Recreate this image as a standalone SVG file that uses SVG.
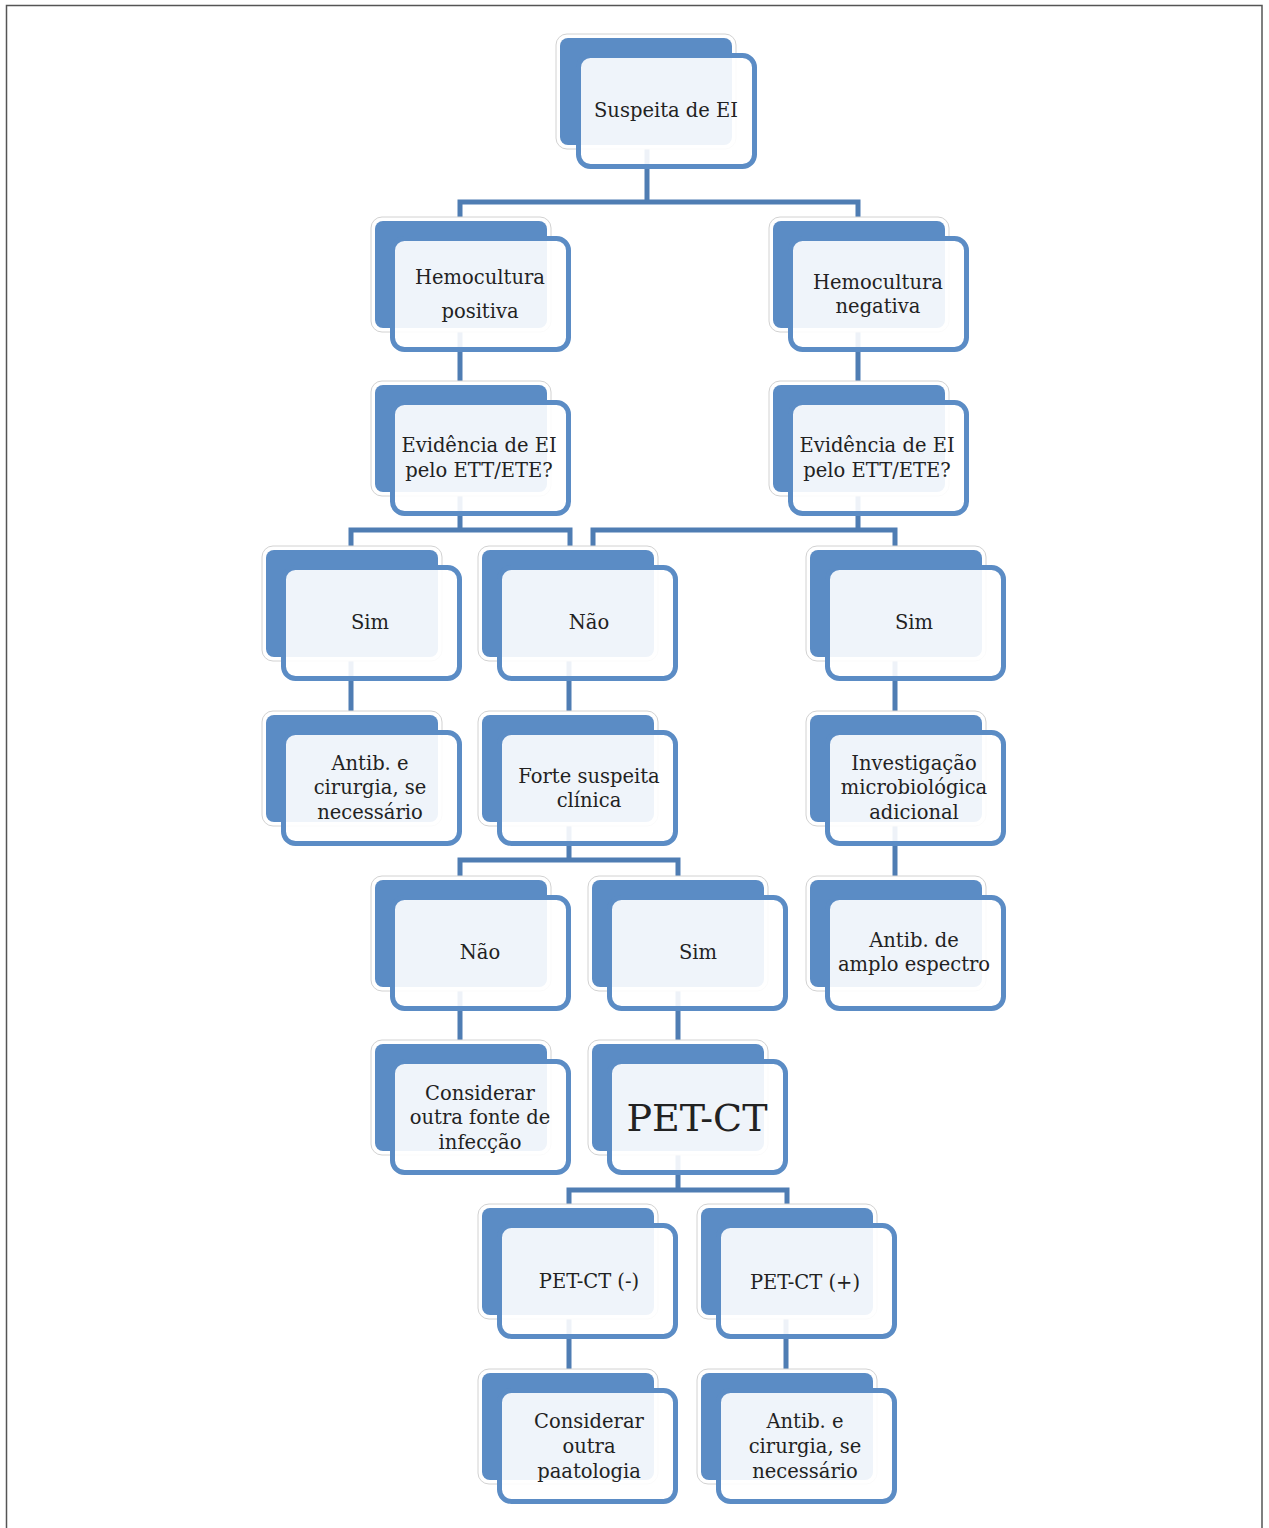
<svg xmlns="http://www.w3.org/2000/svg" width="1269" height="1528" viewBox="0 0 1269 1528">
<style>
.halo{fill:#fff;stroke:#d2d2d2;stroke-width:1}
.back{fill:#5b8cc5}
.front{fill:#fff;fill-opacity:0.9;stroke:#5b8cc5;stroke-width:5}
.t{font-family:"DejaVu Serif","Liberation Serif",serif;font-size:19.5px;fill:#222;text-anchor:middle}
.big{font-size:38px}
.c{fill:none;stroke:#4f7db3;stroke-width:5;stroke-linejoin:miter}
</style>
<rect width="1269" height="1528" fill="#fff"/>
<path d="M6.5 1528 V5.5 H1262 V1528" fill="none" stroke="#555" stroke-width="1.5"/>
<g id="connectors">
<path class="c" d="M647 140 V202 M460 230 V202 H858 V230"/>
<path class="c" d="M460 320 V395 M858 320 V395"/>
<path class="c" d="M460 490 V530 M351 560 V530 H570 V560"/>
<path class="c" d="M858 490 V530 M593 560 V530 H895 V560"/>
<path class="c" d="M351 650 V725 M569 650 V725 M895 650 V725"/>
<path class="c" d="M569 815 V860 M460 890 V860 H678 V890"/>
<path class="c" d="M895 815 V890"/>
<path class="c" d="M460 980 V1055 M678 980 V1055"/>
<path class="c" d="M678 1145 V1190 M569 1220 V1190 H787 V1220"/>
<path class="c" d="M569 1310 V1383 M786 1310 V1383"/>
</g>
<g id="n1"><rect class="halo" x="556" y="34" width="180" height="115" rx="11"/><rect class="back" x="560" y="38" width="172" height="107" rx="8"/><rect class="front" x="578.5" y="55.5" width="176" height="111" rx="12"/><text class="t" x="666" y="117">Suspeita de EI</text></g>
<g id="n2"><rect class="halo" x="371" y="217" width="180" height="115" rx="11"/><rect class="back" x="375" y="221" width="172" height="107" rx="8"/><rect class="front" x="392.5" y="238.5" width="176" height="111" rx="12"/><text class="t" x="480" y="284">Hemocultura</text><text class="t" x="480" y="318">positiva</text></g>
<g id="n3"><rect class="halo" x="769" y="217" width="180" height="115" rx="11"/><rect class="back" x="773" y="221" width="172" height="107" rx="8"/><rect class="front" x="790.5" y="238.5" width="176" height="111" rx="12"/><text class="t" x="878" y="289">Hemocultura</text><text class="t" x="878" y="313">negativa</text></g>
<g id="n4"><rect class="halo" x="371" y="381" width="180" height="115" rx="11"/><rect class="back" x="375" y="385" width="172" height="107" rx="8"/><rect class="front" x="392.5" y="402.5" width="176" height="111" rx="12"/><text class="t" x="479" y="452">Evidência de EI</text><text class="t" x="479" y="477">pelo ETT/ETE?</text></g>
<g id="n5"><rect class="halo" x="769" y="381" width="180" height="115" rx="11"/><rect class="back" x="773" y="385" width="172" height="107" rx="8"/><rect class="front" x="790.5" y="402.5" width="176" height="111" rx="12"/><text class="t" x="877" y="452">Evidência de EI</text><text class="t" x="877" y="477">pelo ETT/ETE?</text></g>
<g id="n6"><rect class="halo" x="262" y="546" width="180" height="115" rx="11"/><rect class="back" x="266" y="550" width="172" height="107" rx="8"/><rect class="front" x="283.5" y="567.5" width="176" height="111" rx="12"/><text class="t" x="370" y="629">Sim</text></g>
<g id="n7"><rect class="halo" x="478" y="546" width="180" height="115" rx="11"/><rect class="back" x="482" y="550" width="172" height="107" rx="8"/><rect class="front" x="499.5" y="567.5" width="176" height="111" rx="12"/><text class="t" x="589" y="629">Não</text></g>
<g id="n8"><rect class="halo" x="806" y="546" width="180" height="115" rx="11"/><rect class="back" x="810" y="550" width="172" height="107" rx="8"/><rect class="front" x="827.5" y="567.5" width="176" height="111" rx="12"/><text class="t" x="914" y="629">Sim</text></g>
<g id="n9"><rect class="halo" x="262" y="711" width="180" height="115" rx="11"/><rect class="back" x="266" y="715" width="172" height="107" rx="8"/><rect class="front" x="283.5" y="732.5" width="176" height="111" rx="12"/><text class="t" x="370" y="770">Antib. e</text><text class="t" x="370" y="794">cirurgia, se</text><text class="t" x="370" y="819">necessário</text></g>
<g id="n10"><rect class="halo" x="478" y="711" width="180" height="115" rx="11"/><rect class="back" x="482" y="715" width="172" height="107" rx="8"/><rect class="front" x="499.5" y="732.5" width="176" height="111" rx="12"/><text class="t" x="589" y="783">Forte suspeita</text><text class="t" x="589" y="807">clínica</text></g>
<g id="n11"><rect class="halo" x="806" y="711" width="180" height="115" rx="11"/><rect class="back" x="810" y="715" width="172" height="107" rx="8"/><rect class="front" x="827.5" y="732.5" width="176" height="111" rx="12"/><text class="t" x="914" y="770">Investigação</text><text class="t" x="914" y="794">microbiológica</text><text class="t" x="914" y="819">adicional</text></g>
<g id="n12"><rect class="halo" x="371" y="876" width="180" height="115" rx="11"/><rect class="back" x="375" y="880" width="172" height="107" rx="8"/><rect class="front" x="392.5" y="897.5" width="176" height="111" rx="12"/><text class="t" x="480" y="959">Não</text></g>
<g id="n13"><rect class="halo" x="588" y="876" width="180" height="115" rx="11"/><rect class="back" x="592" y="880" width="172" height="107" rx="8"/><rect class="front" x="609.5" y="897.5" width="176" height="111" rx="12"/><text class="t" x="698" y="959">Sim</text></g>
<g id="n14"><rect class="halo" x="806" y="876" width="180" height="115" rx="11"/><rect class="back" x="810" y="880" width="172" height="107" rx="8"/><rect class="front" x="827.5" y="897.5" width="176" height="111" rx="12"/><text class="t" x="914" y="947">Antib. de</text><text class="t" x="914" y="971">amplo espectro</text></g>
<g id="n15"><rect class="halo" x="371" y="1040" width="180" height="115" rx="11"/><rect class="back" x="375" y="1044" width="172" height="107" rx="8"/><rect class="front" x="392.5" y="1061.5" width="176" height="111" rx="12"/><text class="t" x="480" y="1100">Considerar</text><text class="t" x="480" y="1124">outra fonte de</text><text class="t" x="480" y="1149">infecção</text></g>
<g id="n16"><rect class="halo" x="588" y="1040" width="180" height="115" rx="11"/><rect class="back" x="592" y="1044" width="172" height="107" rx="8"/><rect class="front" x="609.5" y="1061.5" width="176" height="111" rx="12"/><text class="t big" x="697" y="1131">PET-CT</text></g>
<g id="n17"><rect class="halo" x="478" y="1204" width="180" height="115" rx="11"/><rect class="back" x="482" y="1208" width="172" height="107" rx="8"/><rect class="front" x="499.5" y="1225.5" width="176" height="111" rx="12"/><text class="t" x="589" y="1288">PET-CT (-)</text></g>
<g id="n18"><rect class="halo" x="697" y="1204" width="180" height="115" rx="11"/><rect class="back" x="701" y="1208" width="172" height="107" rx="8"/><rect class="front" x="718.5" y="1225.5" width="176" height="111" rx="12"/><text class="t" x="805" y="1289">PET-CT (+)</text></g>
<g id="n19"><rect class="halo" x="478" y="1369" width="180" height="115" rx="11"/><rect class="back" x="482" y="1373" width="172" height="107" rx="8"/><rect class="front" x="499.5" y="1390.5" width="176" height="111" rx="12"/><text class="t" x="589" y="1428">Considerar</text><text class="t" x="589" y="1453">outra</text><text class="t" x="589" y="1478">paatologia</text></g>
<g id="n20"><rect class="halo" x="697" y="1369" width="180" height="115" rx="11"/><rect class="back" x="701" y="1373" width="172" height="107" rx="8"/><rect class="front" x="718.5" y="1390.5" width="176" height="111" rx="12"/><text class="t" x="805" y="1428">Antib. e</text><text class="t" x="805" y="1453">cirurgia, se</text><text class="t" x="805" y="1478">necessário</text></g>
</svg>
